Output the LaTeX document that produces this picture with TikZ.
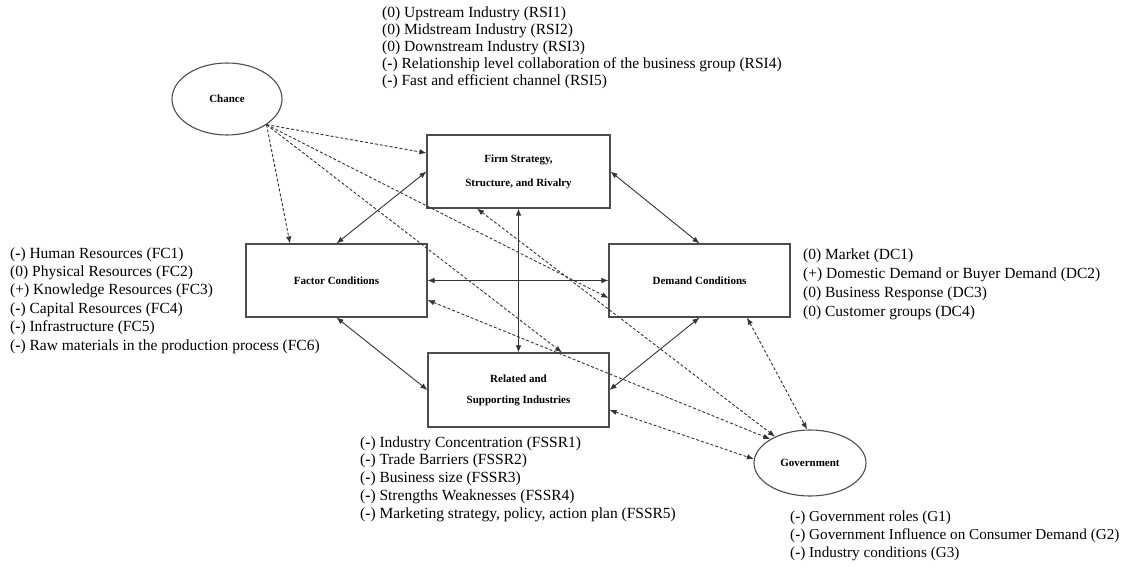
\documentclass[tikz,border=0pt]{standalone}
\usepackage{fontspec}
\setmainfont{Liberation Serif}
\usetikzlibrary{arrows.meta,shapes.geometric}
\newcommand{\minusmark}{(\textbf{-})}
\begin{document}
\begin{tikzpicture}[x=1pt,y=-1pt,
  box/.style={draw=black!70, line width=1.1pt, minimum width=181pt, minimum height=73pt,
    inner sep=0pt, align=center, font=\fontsize{11}{24}\selectfont\bfseries},
  oval/.style={ellipse, draw=black!70, line width=1.1pt, inner sep=0pt,
    font=\fontsize{11}{13}\selectfont\bfseries},
  link/.style={draw=black!80, line width=0.9pt, {Latex[length=7pt,width=5.5pt]}-{Latex[length=7pt,width=5.5pt]}},
  dlink/.style={link, dash pattern=on 3pt off 2pt},
  chancelink/.style={draw=black!80, line width=0.9pt, dash pattern=on 3pt off 2pt,
    -{Latex[length=7pt,width=5.5pt]}},
  list/.style={anchor=base west, align=left, inner sep=0pt}
]
\useasboundingbox (0,0) rectangle (1128,567);

% the four determinants
\node[box, minimum width=183pt] (firm) at (518.5,171.5) {Firm Strategy,\\Structure, and Rivalry};
\node[box] (factor) at (336.5,280.5) {Factor Conditions};
\node[box] (demand) at (699.5,280.5) {Demand Conditions};
\node[box, minimum height=74pt, font=\fontsize{11}{21}\selectfont\bfseries] (related) at (518.5,390)
  {Related and\\Supporting Industries};

% the two outside influences
\node[oval, minimum width=110pt, minimum height=72pt] (chance) at (227,99) {Chance};
\node[oval, minimum width=112pt, minimum height=66pt] (gov) at (810,463) {Government};

% solid two-way links of the diamond
\draw[link] (factor.north) -- (firm.west);
\draw[link] (firm.east) -- (demand.north);
\draw[link] (firm.south) -- (related.north);
\draw[link] (factor.east) -- (demand.west);
\draw[link] (factor.south) -- (related.west);
\draw[link] (demand.south) -- (related.east);

% chance acts on every determinant
\coordinate (cs) at (chance.-33);
\draw[chancelink] (cs) -- ([yshift=18.5pt]firm.west);
\draw[chancelink] (cs) -- ([xshift=-46.5pt]factor.north);
\draw[chancelink] (cs) -- ([xshift=43.5pt]related.north);
\draw[chancelink] (cs) -- ([yshift=-17.5pt]demand.west);

% government and the determinants
\draw[dlink] ([xshift=-41.5pt]firm.south) -- (gov.143);
\draw[dlink] ([yshift=-19.5pt]factor.east) -- (gov.149);
\draw[dlink] ([xshift=47.5pt]demand.south) -- (gov.95);
\draw[dlink] ([yshift=-20pt]related.east) -- (gov.176);

% indicator lists (each placed by the baseline of its last line)
\node[list, font=\fontsize{15.5}{17}\selectfont] (rsi) at (382,86) {(0) Upstream Industry (RSI1)\\
(0) Midstream Industry (RSI2)\\
(0) Downstream Industry (RSI3)\\
\minusmark{} Relationship level collaboration of the business group (RSI4)\\
\minusmark{} Fast and efficient channel (RSI5)};

\node[list, font=\fontsize{15.5}{18.4}\selectfont] (fc) at (10,350) {\minusmark{} Human Resources (FC1)\\
(0) Physical Resources (FC2)\\
(+) Knowledge Resources (FC3)\\
\minusmark{} Capital Resources (FC4)\\
\minusmark{} Infrastructure (FC5)\\
\minusmark{} Raw materials in the production process (FC6)};

\node[list, font=\fontsize{15.5}{19}\selectfont] (dc) at (803,316) {(0) Market (DC1)\\
(+) Domestic Demand or Buyer Demand (DC2)\\
(0) Business Response (DC3)\\
(0) Customer groups (DC4)};

\node[list, font=\fontsize{15.5}{17.7}\selectfont] (fssr) at (360,518) {\minusmark{} Industry Concentration (FSSR1)\\
\minusmark{} Trade Barriers (FSSR2)\\
\minusmark{} Business size (FSSR3)\\
\minusmark{} Strengths Weaknesses (FSSR4)\\
\minusmark{} Marketing strategy, policy, action plan (FSSR5)};

\node[list, font=\fontsize{15.2}{18}\selectfont] (g) at (790,557) {\minusmark{} Government roles (G1)\\
\minusmark{} Government Influence on Consumer Demand (G2)\\
\minusmark{} Industry conditions (G3)};
\end{tikzpicture}
\end{document}
